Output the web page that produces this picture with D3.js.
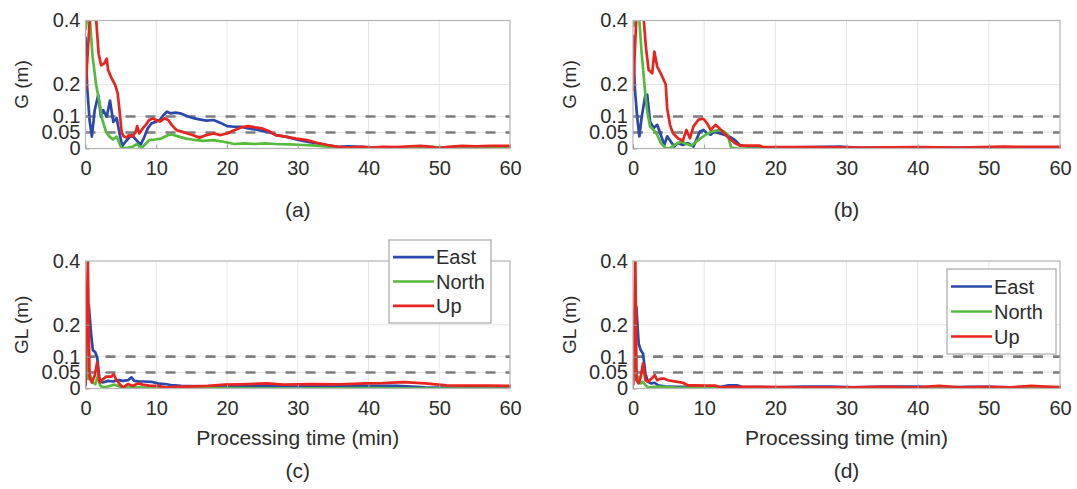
<!DOCTYPE html>
<html>
<head>
<meta charset="utf-8">
<script src="https://cdn.jsdelivr.net/npm/d3@7/dist/d3.min.js"></script>
<style>
  html, body { margin: 0; padding: 0; background: #ffffff; }
  svg { display: block; }
  text { font-family: "Liberation Sans", Arial, Helvetica, sans-serif; fill: #2c2c2c; }
</style>
</head>
<body>
<svg id="chart" width="1077" height="489"></svg>
<script>
// ---------- data ----------
const xTicks = [0, 10, 20, 30, 40, 50, 60];
const yTicks = [0, 0.05, 0.1, 0.2, 0.4];
const yTickLabels = ["0", "0.05", "0.1", "0.2", "0.4"];
const thresholds = [0.05, 0.1];
const seriesNames = ["East", "North", "Up"];
const panelTags = ["(a)", "(b)", "(c)", "(d)"];
const yLabels = ["G (m)", "G (m)", "GL (m)", "GL (m)"];
const xLabel = "Processing time (min)";

// (a) G, first solution
const aEast = [[0,0.35],[0.23,0.193],[0.57,0.089],[0.9,0.037],[1.3,0.12],[1.8,0.167],[2.2,0.099],[2.5,0.12],[3.0,0.099],[3.46,0.15],[3.93,0.083],[4.4,0.095],[4.9,0.037],[5.2,0.008],[5.8,0.025],[6.5,0.042],[7.0,0.031],[7.4,0.021],[7.8,0.012],[8.3,0.035],[8.8,0.063],[9.3,0.078],[10,0.084],[10.5,0.089],[11,0.104],[11.5,0.115],[12,0.11],[12.7,0.112],[13.4,0.11],[14.4,0.101],[15.4,0.094],[16.1,0.091],[17.1,0.087],[18.1,0.089],[19.1,0.08],[20,0.07],[21,0.068],[22,0.068],[23,0.063],[23.9,0.06],[24.9,0.055],[25.9,0.052],[26.9,0.042],[28.3,0.037],[29.8,0.028],[31.3,0.021],[32.7,0.016],[34.2,0.01],[35.7,0.005],[37.1,0.007],[39,0.005],[41.5,0.002],[44,0.003],[46.5,0.004],[49,0.002],[51.5,0.001],[54,0.002],[57,0.003],[60,0.002]];
const aNorth = [[0,0.37],[0.25,0.41],[0.6,0.41],[1.0,0.287],[1.5,0.2],[2.0,0.14],[2.4,0.089],[2.9,0.052],[3.4,0.037],[3.9,0.028],[4.4,0.037],[4.8,0.016],[5.1,0.0],[5.9,0.002],[6.6,0.005],[7.3,0.014],[7.8,0.0],[8.3,0.01],[9,0.026],[9.8,0.028],[10.7,0.031],[11.7,0.042],[12.2,0.044],[13.2,0.037],[14.2,0.031],[15.1,0.028],[16.6,0.024],[18.1,0.026],[19.5,0.021],[21,0.014],[22.5,0.016],[23.9,0.014],[25.4,0.016],[26.9,0.014],[28.8,0.013],[30.8,0.011],[32.7,0.009],[34.7,0.005],[36.6,0.002],[39,0.001],[41.5,0.002],[44,0.001],[46.4,0.002],[48.9,0.005],[51,0.002],[54,0.002],[57,0.001],[60,0.001]];
const aUp = [[0,0.18],[0.64,0.42],[1.45,0.42],[1.85,0.297],[2.2,0.26],[2.65,0.266],[3.0,0.281],[3.2,0.245],[3.7,0.219],[4.2,0.198],[4.55,0.172],[4.9,0.099],[5.1,0.052],[5.35,0.039],[5.8,0.034],[6.1,0.042],[6.6,0.037],[7.1,0.052],[7.3,0.07],[7.6,0.047],[8.1,0.063],[8.5,0.073],[9,0.089],[9.5,0.094],[10,0.089],[10.5,0.084],[11.2,0.094],[11.7,0.089],[12.2,0.073],[12.9,0.057],[13.7,0.052],[14.4,0.047],[15.1,0.042],[16.1,0.034],[17.1,0.042],[18.1,0.047],[19.1,0.042],[20,0.047],[21,0.057],[22,0.066],[23,0.07],[24,0.066],[24.9,0.063],[25.9,0.055],[26.9,0.042],[28.3,0.037],[29.8,0.031],[31.3,0.026],[32.7,0.018],[34.2,0.011],[35.7,0.005],[37.1,0.003],[39.1,0.005],[40.5,0.003],[42,0.005],[44,0.004],[45.9,0.007],[47.4,0.008],[48.9,0.005],[49.8,0.001],[51.3,0.005],[53.2,0.008],[55.2,0.007],[57.2,0.008],[60,0.008]];

// (b) G, second solution
const bEast = [[0,0.355],[0.25,0.19],[0.6,0.095],[0.9,0.038],[1.2,0.095],[1.7,0.163],[2.0,0.168],[2.4,0.084],[2.9,0.064],[3.4,0.074],[3.9,0.043],[4.4,0.011],[4.8,0.038],[5.3,0.022],[5.8,0.006],[6.3,0.017],[7,0.011],[7.7,0.017],[8.5,0.006],[8.9,0.027],[9.4,0.053],[9.9,0.058],[10.4,0.048],[10.9,0.043],[11.4,0.053],[12.1,0.048],[12.8,0.043],[13.5,0.038],[14.3,0.027],[15,0.011],[16.5,0.004],[20,0.003],[25,0.004],[29,0.006],[32,0.002],[36,0.002],[42,0.002],[48,0.003],[54,0.002],[60,0.002]];
const bNorth = [[0,0.38],[0.5,0.41],[0.9,0.4],[1.2,0.303],[1.7,0.178],[2.0,0.116],[2.4,0.069],[2.9,0.058],[3.4,0.043],[3.9,0.017],[4.6,0.001],[5.1,0.0],[5.8,0.011],[6.8,0.022],[7.5,0.014],[8.2,0.009],[9.2,0.027],[10.2,0.043],[11.1,0.053],[12.1,0.058],[12.8,0.053],[13.3,0.043],[13.8,0.003],[14.5,0.0],[20,0.0],[30,0.0],[40,0.0],[50,0.0],[60,0.0]];
const bUp = [[0,0.18],[0.5,0.42],[1.45,0.42],[1.8,0.32],[2.2,0.245],[2.7,0.235],[3.0,0.303],[3.4,0.256],[3.9,0.235],[4.6,0.2],[4.8,0.126],[5.2,0.074],[5.6,0.048],[6.3,0.032],[7.0,0.024],[7.5,0.058],[8.0,0.032],[8.5,0.069],[9.2,0.09],[9.9,0.093],[10.4,0.079],[10.9,0.058],[11.6,0.074],[12.1,0.064],[12.8,0.048],[13.5,0.032],[14.3,0.017],[15,0.009],[16.4,0.009],[17.7,0.009],[18.4,0.004],[25,0.004],[32,0.003],[40,0.004],[46,0.003],[52,0.006],[56,0.005],[60,0.005]];

// (c) GL, first solution
const cEast = [[0,0.008],[0.24,0.12],[0.47,0.26],[0.8,0.17],[1.04,0.12],[1.37,0.114],[1.65,0.098],[2.0,0.024],[2.45,0.019],[3.2,0.024],[3.9,0.022],[4.6,0.026],[5.3,0.024],[6,0.026],[6.5,0.035],[6.9,0.024],[7.6,0.022],[8.3,0.022],[9.3,0.021],[10.2,0.016],[11.2,0.014],[12.1,0.011],[13.5,0.008],[16,0.007],[20,0.007],[25,0.008],[30,0.007],[35,0.008],[40,0.008],[44,0.008],[48,0.004],[52,0.003],[56,0.003],[60,0.003]];
const cNorth = [[0,0.245],[0.2,0.17],[0.4,0.03],[0.7,0.04],[1.04,0.019],[1.4,0.014],[1.75,0.04],[2.1,0.008],[2.7,0.003],[3.4,0.008],[4.1,0.012],[4.8,0.006],[5.5,0.003],[7,0.004],[8.5,0.003],[10,0.002],[12.5,0.001],[20,0.001],[30,0.0],[40,0.001],[50,0.0],[60,0.0]];
const cUp = [[0,0.014],[0.33,0.4],[0.57,0.035],[0.9,0.019],[1.3,0.04],[1.65,0.082],[2.0,0.019],[2.45,0.029],[2.9,0.037],[3.6,0.037],[4.0,0.045],[4.3,0.029],[4.8,0.014],[5.3,0.003],[6,0.014],[6.7,0.008],[7.4,0.016],[8.1,0.012],[9,0.009],[10.2,0.008],[11.4,0.003],[12.6,0.005],[14,0.006],[17.3,0.008],[19.7,0.012],[22,0.013],[25.6,0.016],[28,0.012],[32,0.014],[36,0.013],[39.6,0.016],[42,0.017],[45,0.02],[48,0.016],[51,0.01],[54,0.009],[57,0.009],[60,0.008]];

// (d) GL, second solution
const dEast = [[0,0.01],[0.23,0.17],[0.47,0.256],[0.8,0.14],[1.1,0.12],[1.4,0.11],[1.75,0.047],[2.1,0.021],[2.6,0.016],[3.05,0.018],[3.5,0.01],[4.5,0.007],[5.9,0.005],[8,0.005],[10,0.004],[12.4,0.005],[13.4,0.01],[14.6,0.01],[15.3,0.005],[20,0.004],[24,0.006],[28,0.006],[31,0.004],[35,0.006],[40,0.006],[43,0.003],[47,0.005],[50,0.005],[54,0.003],[57,0.004],[60,0.003]];
const dNorth = [[0,0.246],[0.23,0.16],[0.47,0.026],[0.8,0.037],[1.1,0.016],[1.4,0.021],[1.75,0.01],[2.1,0.003],[3.05,0.005],[4.5,0.005],[6,0.003],[8,0.002],[12,0.002],[20,0.002],[30,0.001],[40,0.001],[50,0.001],[60,0.001]];
const dUp = [[0,0.01],[0.33,0.4],[0.5,0.026],[0.8,0.016],[1.1,0.037],[1.4,0.079],[1.75,0.026],[2.1,0.021],[2.6,0.031],[3.05,0.042],[3.4,0.026],[3.9,0.031],[4.4,0.031],[4.9,0.026],[5.6,0.023],[6.3,0.021],[7.0,0.018],[7.7,0.01],[8.7,0.01],[10.1,0.009],[11.5,0.009],[12.4,0.004],[13.8,0.005],[18,0.005],[24,0.004],[30,0.004],[36,0.005],[40,0.004],[43,0.008],[46,0.004],[50,0.005],[53,0.004],[56,0.008],[58,0.006],[60,0.004]];

// ---------- layout & style ----------
const colors = ["#2b48ad", "#56bb3d", "#e8241f"];
const panels = [
  { series: [aEast, aNorth, aUp], x0: 85.5, x1: 510, y0: 20.5, y1: 148.5, xTitle: false, legend: null, tagY: 209 },
  { series: [bEast, bNorth, bUp], x0: 633, x1: 1060, y0: 20.5, y1: 148.5, xTitle: false, legend: null, tagY: 209 },
  { series: [cEast, cNorth, cUp], x0: 85.5, x1: 510, y0: 261, y1: 388.5, xTitle: true, legend: { x: 389, y: 240, w: 102, h: 83 }, tagY: 470 },
  { series: [dEast, dNorth, dUp], x0: 633, x1: 1060, y0: 261, y1: 388.5, xTitle: true, legend: { x: 947, y: 269, w: 109, h: 85 }, tagY: 470 }
];
const fontStack = '"Liberation Sans", Arial, sans-serif';

const svg = d3.select("#chart");
const defs = svg.append("defs");

panels.forEach((p, i) => {
  const x = d3.scaleLinear().domain([0, 60]).range([p.x0, p.x1]);
  const y = d3.scaleLinear().domain([0, 0.4]).range([p.y1, p.y0]);
  const g = svg.append("g");

  defs.append("clipPath").attr("id", "clip" + i)
    .append("rect").attr("x", p.x0).attr("y", p.y0)
    .attr("width", p.x1 - p.x0).attr("height", p.y1 - p.y0);

  // grid
  g.append("g").selectAll("line").data(xTicks.slice(1, -1)).join("line")
    .attr("x1", d => x(d)).attr("x2", d => x(d))
    .attr("y1", p.y0).attr("y2", p.y1)
    .attr("stroke", "#e6e6e6").attr("stroke-width", 1);
  g.append("g").selectAll("line").data(yTicks.slice(1, -1)).join("line")
    .attr("x1", p.x0).attr("x2", p.x1)
    .attr("y1", d => y(d)).attr("y2", d => y(d))
    .attr("stroke", "#e6e6e6").attr("stroke-width", 1);

  // threshold dashed lines
  g.append("g").selectAll("line").data(thresholds).join("line")
    .attr("x1", p.x0).attr("x2", p.x1)
    .attr("y1", d => y(d)).attr("y2", d => y(d))
    .attr("stroke", "#7d7d7d").attr("stroke-width", 2.6)
    .attr("stroke-dasharray", "10,10");

  // series
  const line = d3.line().x(d => x(d[0])).y(d => y(d[1]));
  const lg = g.append("g").attr("clip-path", "url(#clip" + i + ")");
  p.series.forEach((s, k) => {
    lg.append("path").datum(s).attr("d", line)
      .attr("fill", "none").attr("stroke", colors[k])
      .attr("stroke-width", 2.7).attr("stroke-linejoin", "round");
  });

  // box
  g.append("rect").attr("x", p.x0).attr("y", p.y0)
    .attr("width", p.x1 - p.x0).attr("height", p.y1 - p.y0)
    .attr("fill", "none").attr("stroke", "#b5b5b5").attr("stroke-width", 1.2);

  // axes
  const xAxis = d3.axisBottom(x).tickValues(xTicks).tickSize(-4).tickPadding(12).tickFormat(d3.format("d"));
  const xa = g.append("g").attr("transform", `translate(0,${p.y1})`).call(xAxis);
  xa.select(".domain").remove();
  xa.selectAll(".tick line").attr("stroke", "#a0a0a0");
  xa.selectAll("text").attr("font-size", 20).attr("fill", "#2c2c2c").style("font-family", fontStack);

  const yAxis = d3.axisLeft(y).tickValues(yTicks).tickSize(-4).tickPadding(5)
    .tickFormat((d, j) => yTickLabels[j]);
  const ya = g.append("g").attr("transform", `translate(${p.x0},0)`).call(yAxis);
  ya.select(".domain").remove();
  ya.selectAll(".tick line").attr("stroke", "#a0a0a0");
  ya.selectAll("text").attr("font-size", 20).attr("fill", "#2c2c2c").style("font-family", fontStack);

  // y title
  g.append("text")
    .attr("transform", `translate(${p.x0 - 64},${(p.y0 + p.y1) / 2}) rotate(-90)`)
    .attr("text-anchor", "middle").attr("dominant-baseline", "central")
    .attr("font-size", 19).text(yLabels[i]);

  // x title
  if (p.xTitle) {
    g.append("text").attr("x", (p.x0 + p.x1) / 2).attr("y", p.y1 + 49)
      .attr("text-anchor", "middle").attr("dominant-baseline", "central")
      .attr("font-size", 21).text(xLabel);
  }

  // panel tag
  g.append("text").attr("x", (p.x0 + p.x1) / 2).attr("y", p.tagY)
    .attr("text-anchor", "middle").attr("dominant-baseline", "central")
    .attr("font-size", 21).text(panelTags[i]);

  // legend
  if (p.legend) {
    const L = p.legend;
    const lgd = g.append("g");
    lgd.append("rect").attr("x", L.x).attr("y", L.y).attr("width", L.w).attr("height", L.h)
      .attr("fill", "#ffffff").attr("stroke", "#a8a8a8").attr("stroke-width", 1.2);
    const rowH = (L.h - 10) / 3;
    seriesNames.forEach((name, k) => {
      const cy = L.y + 5 + rowH * (k + 0.5);
      lgd.append("line").attr("x1", L.x + 4).attr("x2", L.x + 45)
        .attr("y1", cy).attr("y2", cy).attr("stroke", colors[k]).attr("stroke-width", 2.7);
      lgd.append("text").attr("x", L.x + 47).attr("y", cy)
        .attr("dominant-baseline", "central").attr("font-size", 20).attr("fill", "#1a1a1a").text(name);
    });
  }
});
</script>
</body>
</html>
